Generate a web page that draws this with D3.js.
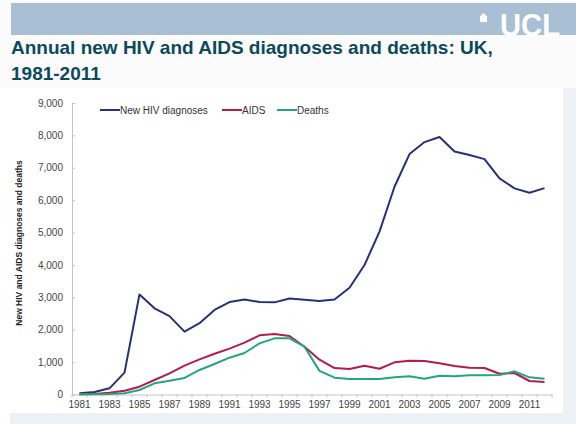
<!DOCTYPE html>
<html>
<head>
<meta charset="utf-8">
<script src="https://cdn.jsdelivr.net/npm/d3@7"></script>
<style>
  body { margin: 0; background: #fff; }
  svg { display: block; font-family: "Liberation Sans", Arial, sans-serif; }
</style>
</head>
<body>
<svg id="chart" width="576" height="424"></svg>
<script>
const years = d3.range(1981, 2013);
const yearLabels = d3.range(1981, 2012, 2);
const yTicks = d3.range(0, 9001, 1000);
const hivNew = [36, 77, 190, 674, 3090, 2660, 2420, 1940, 2200, 2610, 2855, 2935, 2855, 2845, 2965, 2925,
                 2890, 2935, 3297, 3997, 5030, 6415, 7423, 7793, 7948, 7505, 7392, 7268, 6672, 6363, 6229, 6373];
const aids = [5, 15, 56, 118, 241, 448, 654, 890, 1086, 1260, 1415, 1600, 1826, 1867, 1805, 1476,
              1075, 818, 787, 889, 796, 994, 1043, 1034, 963, 880, 827, 818, 642, 664, 417, 386];
const deaths = [5, 5, 15, 36, 139, 345, 427, 510, 757, 942, 1137, 1281, 1580, 1734, 1734, 1476,
                730, 519, 478, 478, 478, 530, 561, 488, 581, 561, 592, 592, 600, 715, 530, 488];
const seriesNames = ["New HIV diagnoses", "AIDS", "Deaths"];
const seriesColors = ["#27307a", "#b41c4b", "#22a77a"];

const svg = d3.select("#chart");

// page background bits
svg.append("rect").attr("x", 0).attr("y", 0).attr("width", 576).attr("height", 88).attr("fill", "#fbfbfb");
svg.append("rect").attr("x", 563).attr("y", 88).attr("width", 13).attr("height", 336).attr("fill", "#edf0f5");
svg.append("rect").attr("x", 10).attr("y", 413).attr("width", 566).attr("height", 11).attr("fill", "#edf0f5");

// header bar + logo
svg.append("rect").attr("x", 11).attr("y", 3).attr("width", 565).attr("height", 32).attr("fill", "#a9bfd4");
svg.append("text").attr("x", 560).attr("y", 36).attr("text-anchor", "end")
  .attr("font-size", 31).attr("font-weight", "bold").attr("fill", "#fff")
  .attr("textLength", 60).attr("lengthAdjust", "spacingAndGlyphs").text("UCL");
const icon = svg.append("g").attr("fill", "#fff");
icon.append("rect").attr("x", 480).attr("y", 17).attr("width", 7).attr("height", 5);
icon.append("path").attr("d", "M479.5,17 L483.5,13 L487.5,17 Z");

// title
const title = svg.append("text").attr("x", 11).attr("font-size", 19).attr("font-weight", "bold").attr("fill", "#0b4a5c");
title.append("tspan").attr("x", 11).attr("y", 54).text("Annual new HIV and AIDS diagnoses and deaths: UK,");
title.append("tspan").attr("x", 11).attr("y", 80).text("1981-2011");

// scales
const x = d3.scaleBand().domain(years).range([72, 552]).padding(0);
const y = d3.scaleLinear().domain([0, 9000]).range([394.5, 103]);
const cx = d => x(d) + x.bandwidth() / 2;

// y axis
const yAxis = svg.append("g").attr("transform", "translate(72,0)")
  .call(d3.axisLeft(y).tickValues(yTicks).tickFormat(d3.format(",")).tickSize(-3).tickPadding(9));
yAxis.select(".domain").attr("stroke", "#c4c4c4");
yAxis.selectAll(".tick line").attr("stroke", "#c4c4c4");
yAxis.selectAll("text").attr("font-size", 10).attr("fill", "#444").attr("font-family", "Liberation Sans, Arial, sans-serif");

// x axis
const xAxis = svg.append("g").attr("transform", "translate(0,394.5)")
  .call(d3.axisBottom(x).tickValues(yearLabels).tickSize(0).tickPadding(6));
xAxis.select(".domain").attr("stroke", "#c4c4c4");
xAxis.selectAll("text").attr("font-size", 10).attr("fill", "#444").attr("font-family", "Liberation Sans, Arial, sans-serif");
svg.append("g").selectAll("line").data(years.concat([null])).join("line")
  .attr("x1", d => d === null ? 552 : x(d)).attr("x2", d => d === null ? 552 : x(d))
  .attr("y1", 394.5).attr("y2", 397.5).attr("stroke", "#c4c4c4");

// y title
svg.append("text").attr("transform", "translate(22,243) rotate(-90)").attr("text-anchor", "middle")
  .attr("font-size", 8.5).attr("font-weight", "bold").attr("fill", "#222")
  .text("New HIV and AIDS diagnoses and deaths");

// lines
const line = d3.line().x((d, i) => cx(years[i])).y(d => y(d));
[hivNew, aids, deaths].forEach((s, i) => {
  svg.append("path").datum(s).attr("d", line).attr("fill", "none")
    .attr("stroke", seriesColors[i]).attr("stroke-width", 2).attr("stroke-linejoin", "round");
});

// legend
const legendX = [100, 222, 277];
const legend = svg.append("g").selectAll("g").data(seriesNames).join("g")
  .attr("transform", (d, i) => `translate(${legendX[i]},110)`);
legend.append("line").attr("x1", 0).attr("x2", 20).attr("stroke", (d, i) => seriesColors[i]).attr("stroke-width", 2);
legend.append("text").attr("x", 20).attr("y", 3.5).attr("font-size", 10).attr("fill", "#333").text(d => d);
</script>
</body>
</html>
